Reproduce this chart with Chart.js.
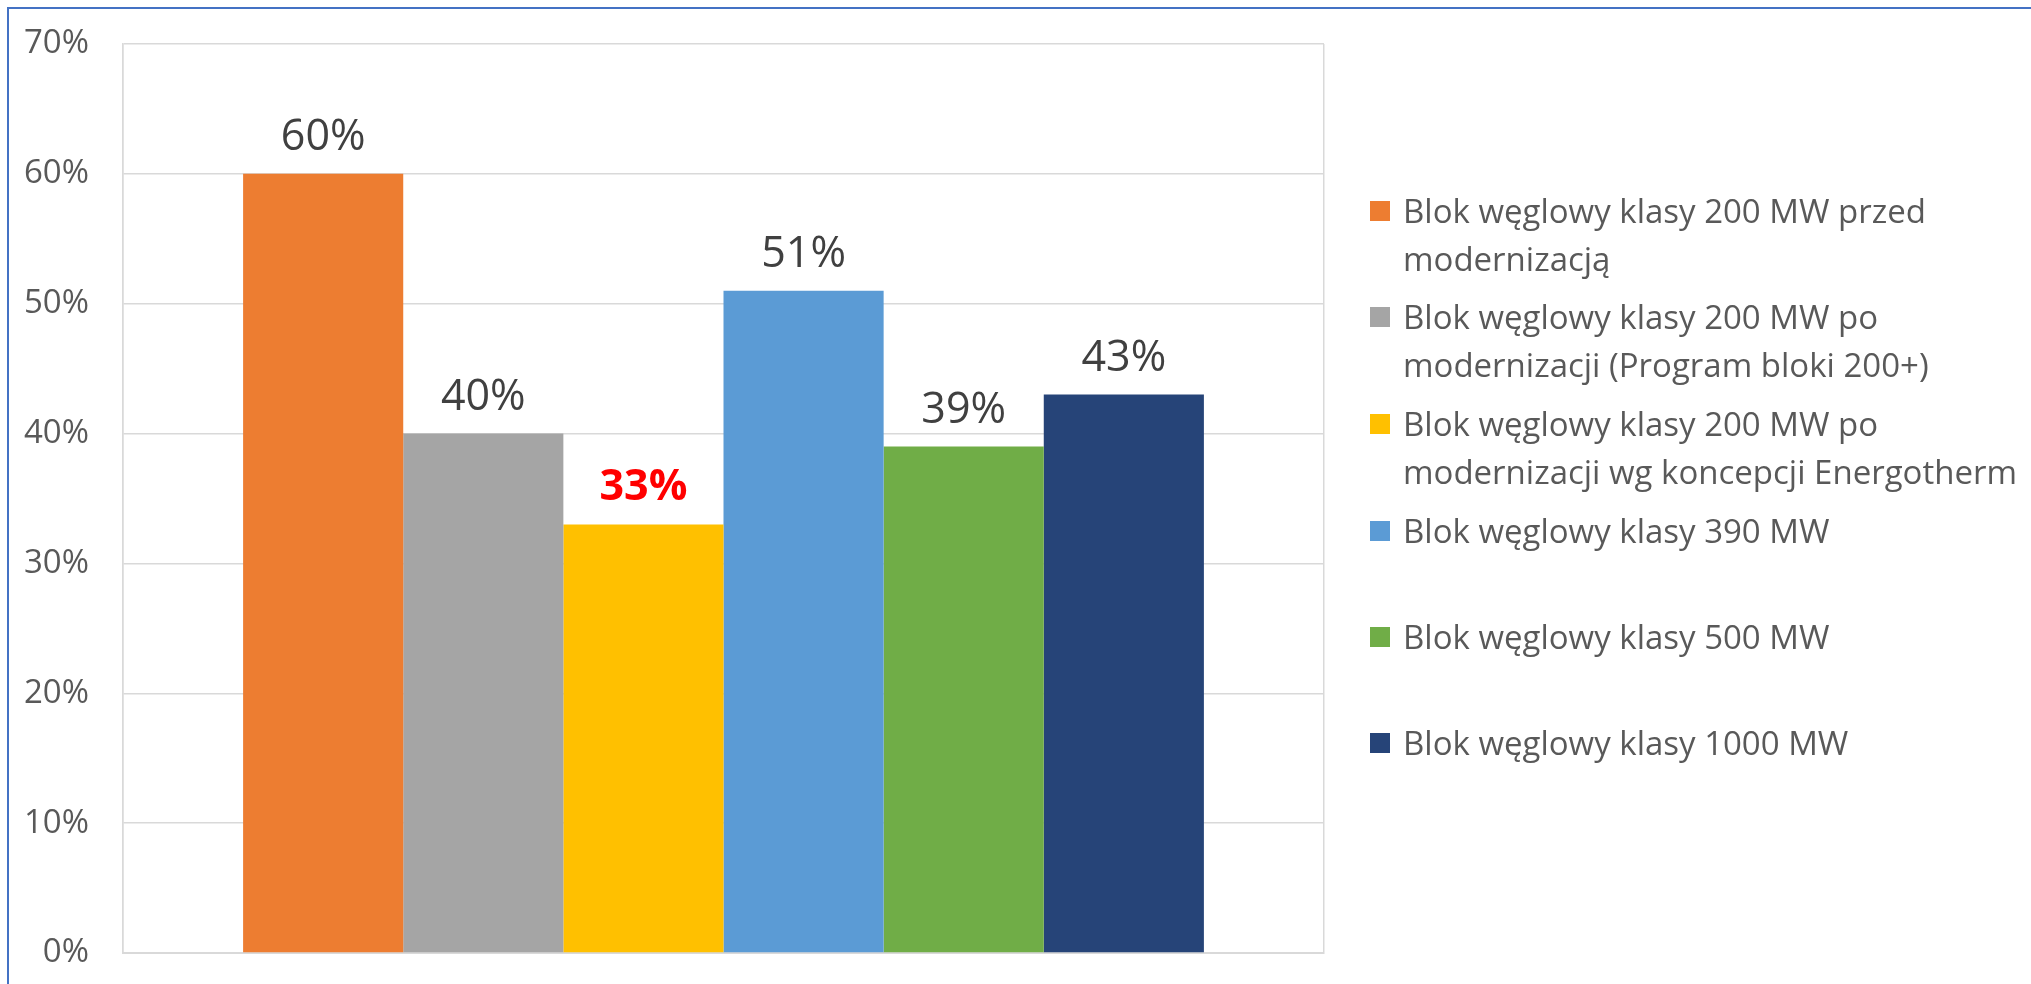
<!DOCTYPE html>
<html lang="pl">
<head>
<meta charset="utf-8">
<title>Bloki węglowe</title>
<script src="https://cdn.jsdelivr.net/npm/chart.js@4.4.1/dist/chart.umd.min.js"></script>
<style>
  html, body {
    margin: 0;
    padding: 0;
    background: #ffffff;
    overflow: hidden;
  }
  #frame {
    position: absolute;
    left: 7px;
    top: 7px;
    width: 2100px;
    height: 1100px;
    border: 2px solid #4472c4;
  }
  #wrap {
    position: absolute;
    left: 0;
    top: 0;
    width: 2031px;
    height: 984px;
  }
  #legend {
    position: absolute;
    left: 0;
    top: 0;
    font-family: "Open Sans", sans-serif;
    font-size: 33px;
    line-height: 48px;
    color: #595959;
  }
  .item {
    position: absolute;
    left: 1370px;
    white-space: nowrap;
  }
  .box {
    position: absolute;
    left: 0;
    top: 14px;
    width: 20px;
    height: 20px;
  }
  .txt {
    position: absolute;
    left: 33px;
    top: 0;
  }
</style>
</head>
<body>
<div id="frame"></div>
<div id="wrap">
  <canvas id="chart"></canvas>
</div>
<div id="legend"></div>
<script>
// one category, one bar per series
const categories = [""];
const seriesLabels = [
  ["Blok węglowy klasy 200 MW przed", "modernizacją"],
  ["Blok węglowy klasy 200 MW po", "modernizacji (Program bloki 200+)"],
  ["Blok węglowy klasy 200 MW po", "modernizacji wg koncepcji Energotherm"],
  ["Blok węglowy klasy 390 MW"],
  ["Blok węglowy klasy 500 MW"],
  ["Blok węglowy klasy 1000 MW"],
];
const seriesValues = [0.6, 0.4, 0.33, 0.51, 0.39, 0.43];
const seriesColors = ["#ed7d31", "#a5a5a5", "#ffc000", "#5b9bd5", "#70ad47", "#264478"];
const yTicks = [0, 0.1, 0.2, 0.3, 0.4, 0.5, 0.6, 0.7];
const highlighted = 2; // this one gets the bold red label

const pct = (v) => Math.round(v * 100) + "%";

// value labels above each bar
const barLabels = {
  id: "barLabels",
  afterDatasetsDraw(chart) {
    const ctx = chart.ctx;
    ctx.save();
    ctx.textAlign = "center";
    ctx.textBaseline = "alphabetic";
    chart.data.datasets.forEach((ds, i) => {
      const bar = chart.getDatasetMeta(i).data[0];
      if (!bar) return;
      if (i === highlighted) {
        ctx.font = "bold 43px 'Open Sans'";
        ctx.fillStyle = "#ff0000";
      } else {
        ctx.font = "43px 'Open Sans'";
        ctx.fillStyle = "#404040";
      }
      ctx.fillText(pct(ds.data[0]), bar.x, bar.y - 24);
    });
    ctx.restore();
  },
};

const datasets = seriesValues.map((v, i) => ({
  label: seriesLabels[i].join(" "),
  data: [v],
  backgroundColor: seriesColors[i],
  borderWidth: 0,
  categoryPercentage: 0.8,
  barPercentage: 1.0,
}));

const chart = new Chart(document.getElementById("chart"), {
  type: "bar",
  data: { labels: categories, datasets: datasets },
  options: {
    responsive: true,
    maintainAspectRatio: false,
    animation: false,
    layout: {
      padding: { left: 0, top: 44, right: 707, bottom: 31 },
    },
    scales: {
      x: {
        afterFit(scale) {
          scale.height = 0;
        },
        grid: {
          display: true,
          color: "#d9d9d9",
          lineWidth: 1.5,
          drawTicks: false,
        },
        border: { display: true, color: "#d9d9d9", width: 2 },
        ticks: { display: false },
      },
      y: {
        min: 0,
        max: 0.7,
        afterFit(scale) {
          // fixed axis width, no extra room above/below the plot
          scale.width = 123;
          scale.paddingTop = 0;
          scale.paddingBottom = 0;
        },
        afterBuildTicks(scale) {
          scale.ticks = yTicks.map((v) => ({ value: v }));
        },
        grid: { color: "#d9d9d9", lineWidth: 1.5, drawTicks: false },
        border: { display: true, color: "#d9d9d9", width: 1.5 },
        ticks: {
          padding: 34,
          color: "#595959",
          font: { family: "Open Sans", size: 33 },
          callback: (v) => pct(v),
        },
      },
    },
    plugins: {
      legend: { display: false },
      tooltip: { enabled: false },
    },
  },
  plugins: [barLabels],
});

// legend on the right, built from the chart's datasets
const legendEl = document.getElementById("legend");
const rowTops = [187, 293, 400, 507, 613, 719];
chart.data.datasets.forEach((ds, i) => {
  const item = document.createElement("div");
  item.className = "item";
  item.style.top = rowTops[i] + "px";
  const box = document.createElement("span");
  box.className = "box";
  box.style.background = ds.backgroundColor;
  const txt = document.createElement("span");
  txt.className = "txt";
  txt.innerHTML = seriesLabels[i].join("<br>");
  item.appendChild(box);
  item.appendChild(txt);
  legendEl.appendChild(item);
});
</script>
</body>
</html>
